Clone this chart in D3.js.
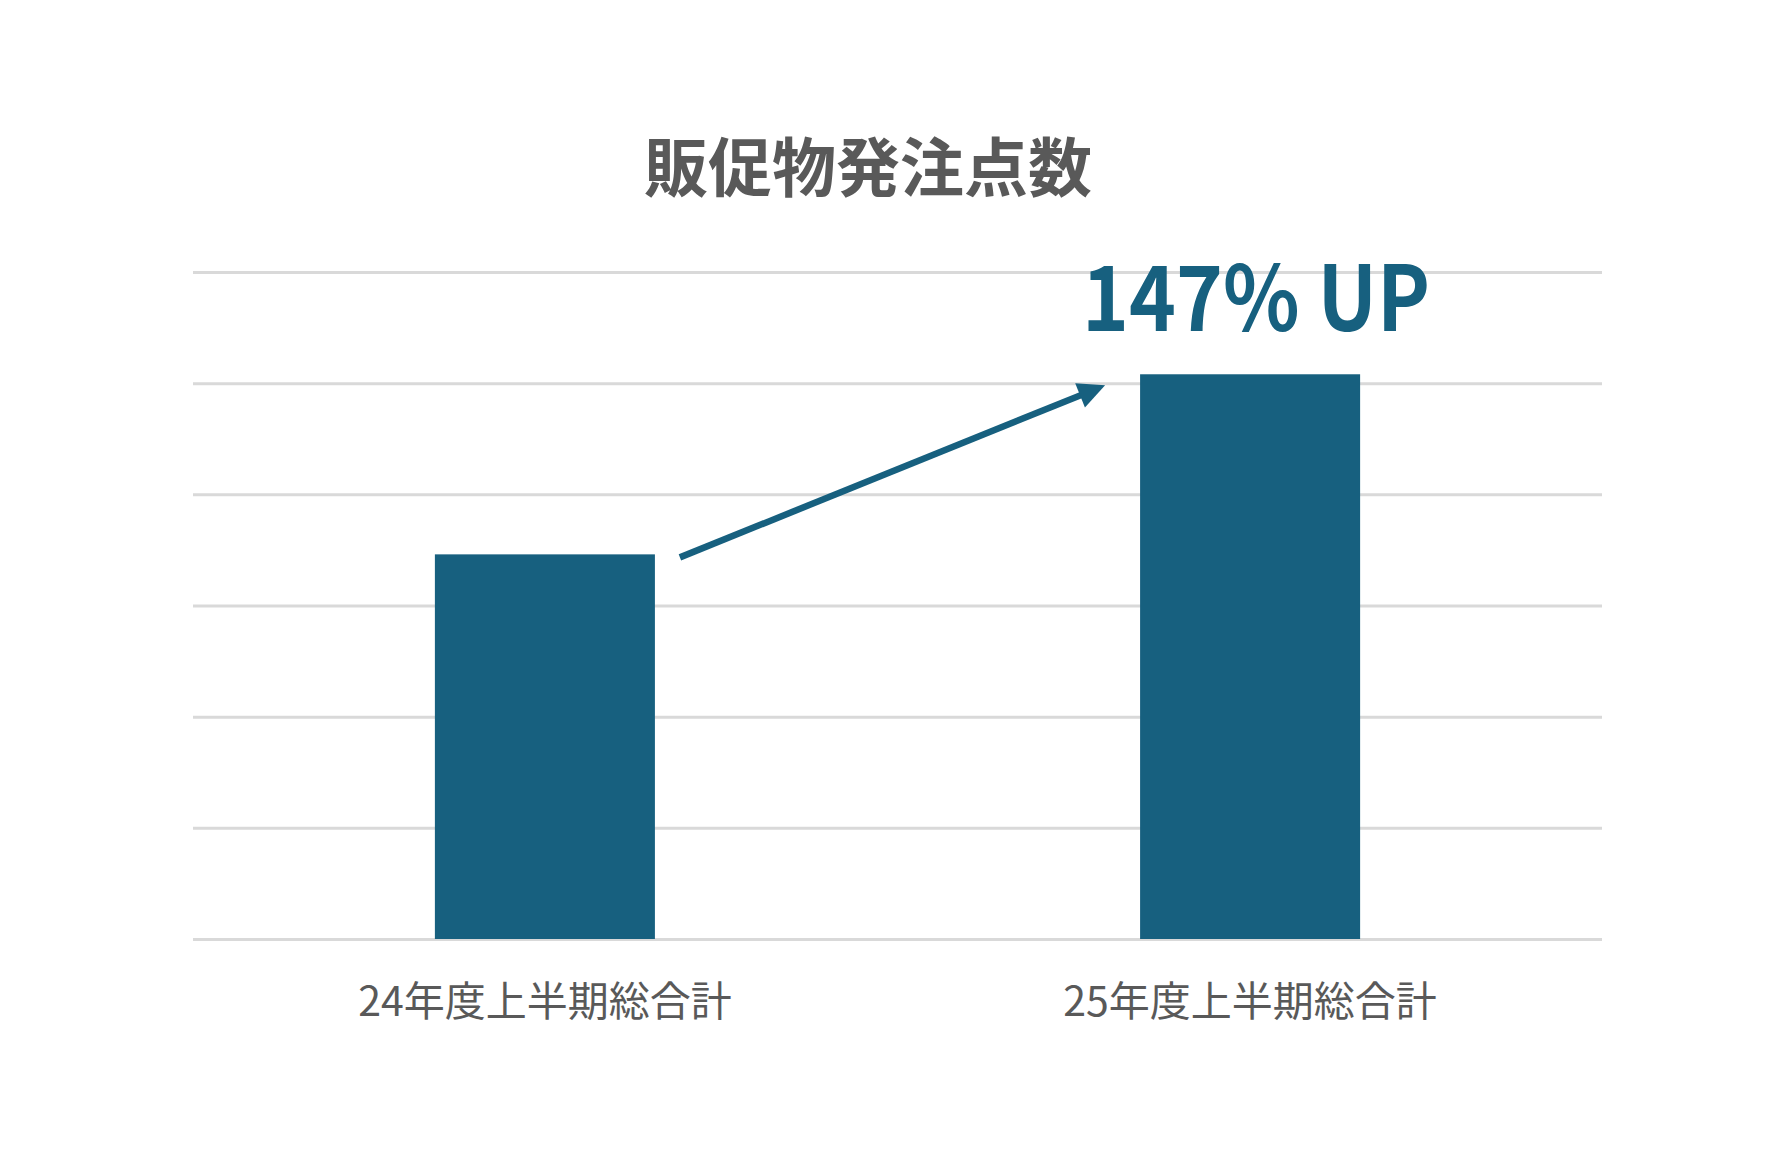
<!DOCTYPE html>
<html>
<head>
<meta charset="utf-8">
<script src="https://cdn.jsdelivr.net/npm/d3@7"></script>
<style>
    html, body { margin: 0; padding: 0; background: #ffffff; }
    svg { display: block; }
</style>
</head>
<body>
<svg id="chart" width="1792" height="1159"></svg>
<script>
    'use strict';

    // data
    var categories = ['24年度上半期総合計', '25年度上半期総合計'];
    var orderValues = [173, 254];
    var gridTicks = [0, 50, 100, 150, 200, 250, 300];
    var chartTitle = '販促物発注点数';
    var growthLabel = '147% UP';

    var
        width = 1792,
        height = 1159,
        margin = {top: 272, right: 190, bottom: 220, left: 193},
        barColor = '#17607f',
        textGray = '#595959',
        svg = d3.select('#chart');

    var x = d3.scaleBand()
        .domain(categories)
        .range([margin.left, width - margin.right])
        .paddingInner(0.688)
        .paddingOuter(0.343);

    var y = d3.scaleLinear()
        .domain([0, d3.max(gridTicks)])
        .range([height - margin.bottom, margin.top]);

    //horizontal gridlines, no labels
    var grid = svg.append('g')
        .attr('transform', 'translate(' + margin.left + ',0)')
        .call(d3.axisLeft(y)
            .tickValues(gridTicks)
            .tickSize(-(width - margin.right - margin.left))
            .tickFormat(''));
    grid.select('.domain').remove();
    grid.selectAll('.tick line')
        .attr('stroke', '#d9d9d9')
        .attr('stroke-width', 3);

    //bars
    svg.append('g')
        .selectAll('rect')
        .data(orderValues)
        .enter().append('rect')
        .attr('x', function (d, i) { return x(categories[i]); })
        .attr('y', function (d) { return y(d); })
        .attr('width', x.bandwidth())
        .attr('height', function (d) { return y(0) - y(d); })
        .attr('fill', barColor);

    //category labels
    svg.append('g')
        .selectAll('text')
        .data(categories)
        .enter().append('text')
        .attr('x', function (d) { return x(d) + x.bandwidth() / 2; })
        .attr('y', y(0) + 59)
        .attr('text-anchor', 'middle')
        .attr('dominant-baseline', 'central')
        .attr('font-family', '"Noto Sans CJK JP", "Noto Sans", sans-serif')
        .attr('font-size', 41)
        .attr('fill', textGray)
        .text(function (d) { return d; });

    //title
    svg.append('text')
        .attr('x', 868)
        .attr('y', 163)
        .attr('text-anchor', 'middle')
        .attr('dominant-baseline', 'central')
        .attr('font-family', '"Noto Sans CJK JP", "Noto Sans", sans-serif')
        .attr('font-weight', 'bold')
        .attr('font-size', 64)
        .attr('fill', textGray)
        .text(chartTitle);

    //growth annotation, squeezed to the width seen in the picture
    var labelCenter = x(categories[1]) + x.bandwidth() / 2 + 6;
    svg.append('text')
        .attr('x', labelCenter - 174)
        .attr('y', 331)
        .attr('text-anchor', 'start')
        .attr('textLength', 348)
        .attr('lengthAdjust', 'spacingAndGlyphs')
        .attr('font-family', '"Noto Sans CJK JP", "Noto Sans", sans-serif')
        .attr('font-weight', 'bold')
        .attr('font-size', 90)
        .attr('fill', barColor)
        .text(growthLabel);

    //arrow from first bar towards second
    var
        x0 = x(categories[0]) + x.bandwidth() + 25,
        y0 = y(orderValues[0]) + 3,
        x1 = x(categories[1]) - 35,
        y1 = y(orderValues[1]) + 11,
        angle = Math.atan2(y1 - y0, x1 - x0),
        headLen = 27,
        headHalf = 13,
        bx = x1 - headLen * Math.cos(angle),
        by = y1 - headLen * Math.sin(angle);

    svg.append('line')
        .attr('x1', x0)
        .attr('y1', y0)
        .attr('x2', bx + 2 * Math.cos(angle))
        .attr('y2', by + 2 * Math.sin(angle))
        .attr('stroke', barColor)
        .attr('stroke-width', 6.5);

    svg.append('path')
        .attr('d', d3.line()([
            [x1, y1],
            [bx - headHalf * Math.sin(angle), by + headHalf * Math.cos(angle)],
            [bx + headHalf * Math.sin(angle), by - headHalf * Math.cos(angle)]
        ]) + 'Z')
        .attr('fill', barColor);
</script>
</body>
</html>
